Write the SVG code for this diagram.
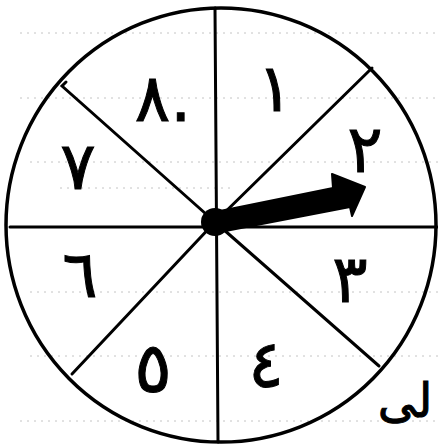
<svg xmlns="http://www.w3.org/2000/svg" width="438" height="446" viewBox="0 0 438 446">
<style>
.rule{stroke:#c4c4c4;stroke-width:1;stroke-dasharray:2 5;fill:none}
.ln{stroke:#000;stroke-width:3;fill:none;stroke-linecap:round}
.num{font-family:"DejaVu Sans",sans-serif;fill:#000;stroke:#000;stroke-width:1;text-anchor:middle;dominant-baseline:central}
</style>
<rect width="438" height="446" fill="#fff"/>
<g id="paper">
<line class="rule" x1="20" y1="33" x2="438" y2="33"/>
<line class="rule" x1="20" y1="98" x2="438" y2="98"/>
<line class="rule" x1="30" y1="162" x2="438" y2="162"/>
<line class="rule" x1="60" y1="188" x2="230" y2="188"/>
<line class="rule" x1="30" y1="292" x2="438" y2="292"/>
<line class="rule" x1="30" y1="356" x2="438" y2="356"/>
<line class="rule" x1="20" y1="421" x2="438" y2="421"/>
</g>
<g id="wheel">
<ellipse cx="221" cy="225" rx="215" ry="217" stroke="#000" stroke-width="3.5" fill="none"/>
</g>
<g id="connectors">
<line class="ln" x1="215" y1="8" x2="218" y2="442"/>
<line class="ln" x1="10" y1="227" x2="437" y2="227"/>
<polyline class="ln" points="66,82 62,86 215,222"/>
<line class="ln" x1="372" y1="68" x2="215" y2="222"/>
<line class="ln" x1="215" y1="222" x2="72" y2="374"/>
<line class="ln" x1="215" y1="222" x2="379" y2="366"/>
</g>
<g id="pointer">
<polygon points="215,212 333,188 332,174 365,187 352,216 350,207 215,233" fill="#000" stroke="#000" stroke-width="2" stroke-linejoin="round"/>
<circle cx="215" cy="222" r="14" fill="#000"/>
</g>
<g id="s1"><text class="num" x="275" y="88" font-size="66">١</text></g>
<g id="s2"><text class="num" x="365" y="149" font-size="66">٢</text></g>
<g id="s3"><text class="num" x="350" y="279" font-size="66">٣</text></g>
<g id="s4"><text class="num" x="266" y="364" font-size="66">٤</text></g>
<g id="s5"><text class="num" x="153" y="368" font-size="70">٥</text></g>
<g id="s6"><text class="num" x="80" y="274" font-size="66">٦</text></g>
<g id="s7"><text class="num" x="78" y="166" font-size="66">٧</text></g>
<g id="s8"><text class="num" x="163" y="98" font-size="66">٨.</text></g>
<g id="note"><text class="num" x="405" y="400" font-size="48">لى</text></g>
</svg>
